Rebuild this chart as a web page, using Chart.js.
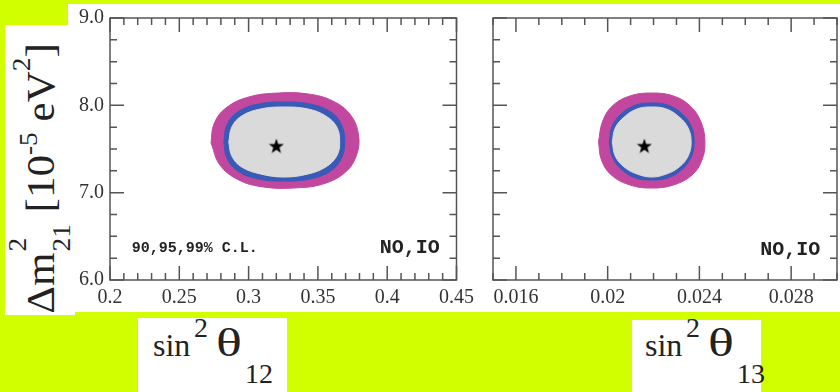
<!DOCTYPE html>
<html>
<head>
<meta charset="utf-8">
<script src="https://cdn.jsdelivr.net/npm/chart.js@4.4.0/dist/chart.umd.min.js"></script>
<style>
  body { margin: 0; width: 840px; height: 392px; overflow: hidden; background: #d2ff00; position: relative; font-family: 'Liberation Serif', 'Times New Roman', serif; color: #222; }
  .box { position: absolute; background: #fff; }
  .wrap { position: absolute; }
  .t { position: absolute; white-space: nowrap; line-height: 1; }
  .th { transform: scaleX(1.35); transform-origin: 0 0; }
  #ytitle { position: absolute; left: -105px; top: 147px; width: 290px; height: 63px; line-height: 63px; font-size: 41px; text-align: center; white-space: nowrap; transform: rotate(-90deg) scaleX(1.05); }
  #ytitle .ss { display: inline-block; position: relative; width: 28px; height: 0; }
  #ytitle .ss span { position: absolute; left: 1px; font-size: 26px; line-height: 26px; }
  #ytitle .sp2 { position: relative; font-size: 26px; }
</style>
</head>
<body>
<div class="box" style="left:68px;top:4px;width:772px;height:308px"></div>
<div class="box" style="left:5px;top:25px;width:70px;height:290px"></div>
<div class="box" style="left:138px;top:318px;width:149px;height:74px"></div>
<div class="box" style="left:632px;top:320px;width:129px;height:72px"></div>

<div id="ytitle">Δm<span class="ss"><span style="top:-49px">2</span><span style="top:-5px">21</span></span> [10<span class="sp2" style="top:-17px">-5</span> eV<span class="sp2" style="top:-24px">2</span>]</div>

<div class="t" style="left:153px;top:329px;font-size:32px">sin</div>
<div class="t" style="left:194px;top:314px;font-size:28px">2</div>
<div class="t th" style="left:216px;top:323px;font-size:40px">θ</div>
<div class="t" style="left:245px;top:360px;font-size:28px">12</div>

<div class="t" style="left:645px;top:329px;font-size:32px">sin</div>
<div class="t" style="left:686px;top:314px;font-size:28px">2</div>
<div class="t th" style="left:708px;top:323px;font-size:40px">θ</div>
<div class="t" style="left:737px;top:360px;font-size:28px">13</div>

<div class="wrap" style="left:60px;top:0;width:420px;height:312px"><canvas id="c12"></canvas></div>
<div class="wrap" style="left:480px;top:0;width:366px;height:312px"><canvas id="c13"></canvas></div>

<script>
// tick labels
const yLabels = [6, 7, 8, 9];
const x12Labels = [0.2, 0.25, 0.3, 0.35, 0.4, 0.45];
const x13Labels = [0.016, 0.02, 0.024, 0.028];

// sin^2 theta12 contours (99, 95, 90 % C.L.)
const s12_99x = [0.2729, 0.2750, 0.2836, 0.3000, 0.3214, 0.3429, 0.3607, 0.3736, 0.3793, 0.3779, 0.3700, 0.3536, 0.3321, 0.3107, 0.2929, 0.2793];
const s12_99y = [7.569, 7.786, 7.969, 8.095, 8.141, 8.130, 8.050, 7.889, 7.660, 7.431, 7.237, 7.099, 7.053, 7.065, 7.145, 7.317];
const s12_95x = [0.2821, 0.2843, 0.2921, 0.3071, 0.3257, 0.3443, 0.3593, 0.3671, 0.3693, 0.3671, 0.3593, 0.3443, 0.3257, 0.3071, 0.2921, 0.2843];
const s12_95y = [7.580, 7.775, 7.924, 8.015, 8.038, 8.015, 7.924, 7.775, 7.580, 7.397, 7.248, 7.156, 7.133, 7.156, 7.248, 7.397];
const s12_90x = [0.2857, 0.2879, 0.2950, 0.3086, 0.3257, 0.3429, 0.3557, 0.3636, 0.3657, 0.3636, 0.3557, 0.3429, 0.3257, 0.3086, 0.2950, 0.2879];
const s12_90y = [7.580, 7.752, 7.878, 7.958, 7.981, 7.958, 7.878, 7.752, 7.580, 7.420, 7.294, 7.214, 7.179, 7.214, 7.294, 7.420];
const best12 = [0.32, 7.54];

// sin^2 theta13 contours
const s13_99x = [0.01960, 0.01977, 0.02020, 0.02097, 0.02192, 0.02287, 0.02360, 0.02407, 0.02424, 0.02411, 0.02368, 0.02287, 0.02192, 0.02097, 0.02016, 0.01973];
const s13_99y = [7.580, 7.809, 7.992, 8.107, 8.141, 8.107, 7.992, 7.809, 7.580, 7.374, 7.202, 7.088, 7.053, 7.088, 7.202, 7.374];
const s13_95x = [0.02007, 0.02020, 0.02063, 0.02123, 0.02192, 0.02261, 0.02321, 0.02364, 0.02377, 0.02364, 0.02321, 0.02261, 0.02192, 0.02123, 0.02063, 0.02020];
const s13_95y = [7.580, 7.763, 7.912, 8.004, 8.027, 8.004, 7.912, 7.763, 7.580, 7.408, 7.260, 7.168, 7.145, 7.168, 7.260, 7.408];
const s13_90x = [0.02020, 0.02033, 0.02072, 0.02128, 0.02192, 0.02256, 0.02312, 0.02351, 0.02364, 0.02351, 0.02312, 0.02256, 0.02192, 0.02128, 0.02072, 0.02033];
const s13_90y = [7.580, 7.740, 7.866, 7.958, 7.981, 7.958, 7.866, 7.740, 7.580, 7.420, 7.294, 7.214, 7.179, 7.214, 7.294, 7.420];
const best13 = [0.0216, 7.54];

const MAGENTA = '#c2479f', BLUE = '#3a5ab8', GREY = '#dadada';

function starImage(size) {
  const c = document.createElement('canvas');
  c.width = c.height = size;
  const g = c.getContext('2d');
  g.fillStyle = '#000';
  g.beginPath();
  for (let i = 0; i < 10; i++) {
    const r = i % 2 ? size * 0.2 : size / 2;
    const a = -Math.PI / 2 + i * Math.PI / 5;
    g.lineTo(size / 2 + r * Math.cos(a), size / 2 + 1 + r * Math.sin(a));
  }
  g.closePath();
  g.fill();
  return c;
}
const star = starImage(16);

function contour(xs, ys, color) {
  const pts = xs.map((x, i) => ({ x: x, y: ys[i] }));
  pts.push({ x: xs[0], y: ys[0] });
  return { data: pts, showLine: true, fill: 'shape', backgroundColor: color, borderColor: color,
           borderWidth: 1, pointRadius: 0, tension: 0.4 };
}

const near = (v, list) => list.some(m => Math.abs(v - m) < 1e-7);

// frame, inward ticks on all four sides, and the little text notes
const framePlugin = {
  id: 'frame',
  afterDraw(chart, args, opts) {
    const { ctx, chartArea: a, scales } = chart;
    ctx.save();
    ctx.strokeStyle = '#555';
    ctx.lineWidth = 1.5;
    ctx.strokeRect(a.left, a.top, a.right - a.left, a.bottom - a.top);
    ctx.beginPath();
    scales.x.ticks.forEach(t => {
      const px = scales.x.getPixelForValue(t.value);
      const len = near(t.value, opts.xMajors) ? 14 : 7;
      ctx.moveTo(px, a.bottom); ctx.lineTo(px, a.bottom - len);
      ctx.moveTo(px, a.top); ctx.lineTo(px, a.top + len);
    });
    scales.y.ticks.forEach(t => {
      const py = scales.y.getPixelForValue(t.value);
      const len = near(t.value, yLabels) ? 14 : 7;
      ctx.moveTo(a.left, py); ctx.lineTo(a.left + len, py);
      ctx.moveTo(a.right, py); ctx.lineTo(a.right - len, py);
    });
    ctx.stroke();
    ctx.fillStyle = '#222';
    opts.notes.forEach(n => {
      ctx.font = n.font;
      ctx.textAlign = n.align;
      ctx.textBaseline = 'alphabetic';
      ctx.fillText(n.text, scales.x.getPixelForValue(n.x), scales.y.getPixelForValue(n.y));
    });
    ctx.restore();
  }
};

const tickFont = { family: "'Liberation Serif', serif", size: 20 };

function makeChart(id, sets, best, xMin, xMax, xStep, xMajors, xFmt, showY, yWidth, padRight, notes) {
  return new Chart(document.getElementById(id), {
    type: 'scatter',
    data: {
      datasets: [
        { data: [{ x: best[0], y: best[1] }], pointStyle: star, pointRadius: 8, showLine: false }
      ].concat(sets)
    },
    options: {
      animation: false,
      responsive: true,
      maintainAspectRatio: false,
      devicePixelRatio: 1,
      layout: { padding: { top: 18, right: padRight, left: 0, bottom: 0 } },
      plugins: { legend: { display: false }, tooltip: { enabled: false },
                 frame: { xMajors: xMajors, notes: notes } },
      scales: {
        x: {
          type: 'linear', min: xMin, max: xMax,
          grid: { display: false, drawTicks: false }, border: { display: false },
          ticks: { stepSize: xStep, autoSkip: false, maxRotation: 0, padding: 6, color: '#333', font: tickFont,
                   callback: v => near(v, xMajors) ? xFmt(v) : '' },
          afterFit: s => { s.height = 32; }
        },
        y: {
          type: 'linear', min: 6, max: 9,
          grid: { display: false, drawTicks: false }, border: { display: false },
          ticks: { display: showY, stepSize: 0.25, autoSkip: false, padding: 6, color: '#333', font: tickFont,
                   callback: v => near(v, yLabels) ? v.toFixed(1) : '' },
          afterFit: s => { s.width = yWidth; }
        }
      }
    },
    plugins: [framePlugin]
  });
}

const monoBold = sz => "bold " + sz + "px 'Liberation Mono', 'Courier New', monospace";

makeChart('c12',
  [contour(s12_90x, s12_90y, GREY), contour(s12_95x, s12_95y, BLUE), contour(s12_99x, s12_99y, MAGENTA)],
  best12, 0.2, 0.45, 0.01, x12Labels, v => String(Number(v.toFixed(3))), true, 50, 20,
  [{ text: '90,95,99% C.L.', x: 0.2157, y: 6.32, align: 'left', font: monoBold(15) },
   { text: 'NO,IO', x: 0.4379, y: 6.31, align: 'right', font: monoBold(20) }]);

makeChart('c13',
  [contour(s13_90x, s13_90y, GREY), contour(s13_95x, s13_95y, BLUE), contour(s13_99x, s13_99y, MAGENTA)],
  best13, 0.015, 0.030, 0.001, x13Labels, v => String(Number(v.toFixed(4))), false, 13, 3,
  [{ text: 'NO,IO', x: 0.02927, y: 6.29, align: 'right', font: monoBold(20) }]);
</script>
</body>
</html>
